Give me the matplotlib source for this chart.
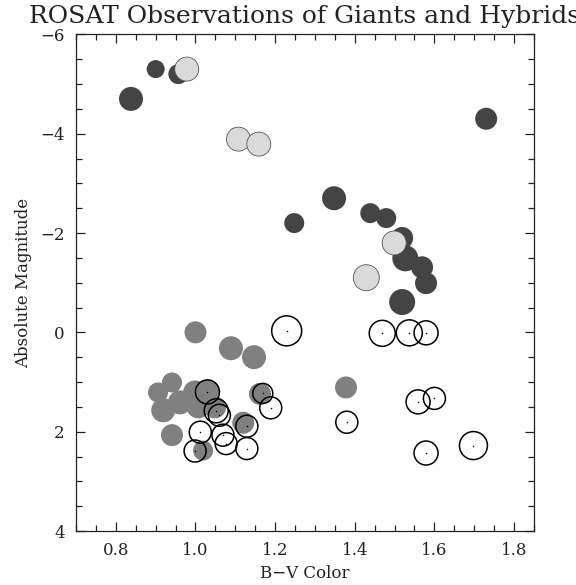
import numpy as np
import matplotlib
matplotlib.use("Agg")
import matplotlib.pyplot as plt
from matplotlib.ticker import MultipleLocator

# dark gray: giants
dark_bv = [0.838, 0.900, 0.957, 1.730, 1.248, 1.348, 1.439, 1.479, 1.519, 1.527, 1.569, 1.579, 1.519]
dark_mv = [-4.70, -5.30, -5.20, -4.30, -2.20, -2.70, -2.40, -2.30, -1.90, -1.49, -1.31, -0.99, -0.61]
dark_r = [12, 9, 10, 11, 10, 12, 10, 10, 11, 13, 11, 11, 13]

# light gray: hybrids
light_bv = [0.978, 1.108, 1.159, 1.499, 1.429]
light_mv = [-5.30, -3.89, -3.79, -1.80, -1.10]
light_r = [12, 12, 12, 12, 13]

# medium gray
mid_bv = [1.000, 1.089, 1.147, 0.941, 0.906, 0.919, 0.961, 0.999, 1.007, 0.941,
          1.019, 1.032, 1.049, 1.162, 1.120, 1.378]
mid_mv = [0.00, 0.32, 0.50, 1.01, 1.21, 1.57, 1.41, 1.21, 1.49, 2.07,
          2.38, 1.17, 1.51, 1.24, 1.82, 1.11]
mid_r = [11, 12, 12, 10, 10, 12, 12, 12, 12, 11, 10, 11, 11, 11, 11, 11]

# open circles
open_bv = [1.229, 1.030, 1.052, 1.060, 1.169, 1.189, 1.012, 1.129, 1.069, 1.077,
           1.129, 0.999, 1.469, 1.537, 1.579, 1.380, 1.559, 1.600, 1.579, 1.698]
open_mv = [-0.03, 1.20, 1.58, 1.67, 1.23, 1.52, 2.01, 1.89, 2.07, 2.24,
           2.34, 2.39, 0.02, 0.01, 0.01, 1.81, 1.40, 1.33, 2.43, 2.28]
open_r = [15, 12, 12, 11, 10, 11, 11, 11, 11, 11,
          11, 11, 13, 13, 12, 11, 12, 11, 12, 14]


def s_of(r):
    # radius in pixels -> scatter area in points^2 at dpi 100
    return (1.44 * np.array(r)) ** 2


plt.rcParams['font.family'] = 'DejaVu Serif'

fig = plt.figure(figsize=(5.76, 5.85), dpi=100)
ax = fig.add_axes([0.132, 0.0923, 0.795, 0.849])

ax.scatter(mid_bv, mid_mv, s=s_of(mid_r), color='#808080', linewidths=0, zorder=2)
ax.scatter(dark_bv, dark_mv, s=s_of(dark_r), color='#444444', linewidths=0, zorder=3)
ax.scatter(light_bv, light_mv, s=s_of(light_r), facecolor='#dadada',
           edgecolor='#555555', linewidths=0.6, zorder=4)
ax.scatter(open_bv, open_mv, s=s_of(open_r), facecolor='none',
           edgecolor='black', linewidths=1.1, zorder=5)
ax.scatter(open_bv, open_mv, s=1.2, color='black', linewidths=0, zorder=6)

ax.set_xlim(0.7, 1.85)
ax.set_ylim(4, -6)

ax.xaxis.set_major_locator(MultipleLocator(0.2))
ax.xaxis.set_minor_locator(MultipleLocator(0.05))
ax.yaxis.set_major_locator(MultipleLocator(2))
ax.yaxis.set_minor_locator(MultipleLocator(0.5))
ax.xaxis.set_major_formatter(matplotlib.ticker.FormatStrFormatter('%.1f'))
ax.tick_params(which='both', direction='in', top=True, right=True,
               labelsize=12, width=0.9, color='#222222', labelcolor='#222222')
ax.tick_params(which='major', length=6.5, pad=8)
ax.tick_params(which='minor', length=4)
for sp in ax.spines.values():
    sp.set_linewidth(0.9)
    sp.set_color('#222222')

ax.set_xlabel('B\u2212V Color', fontsize=12, labelpad=4, color='#222222')
ax.set_ylabel('Absolute Magnitude', fontsize=12, labelpad=6, color='#222222')
ax.set_title('ROSAT Observations of Giants and Hybrids', fontsize=18, pad=8,
             color='#222222')

fig.savefig('out.png', dpi=100)
